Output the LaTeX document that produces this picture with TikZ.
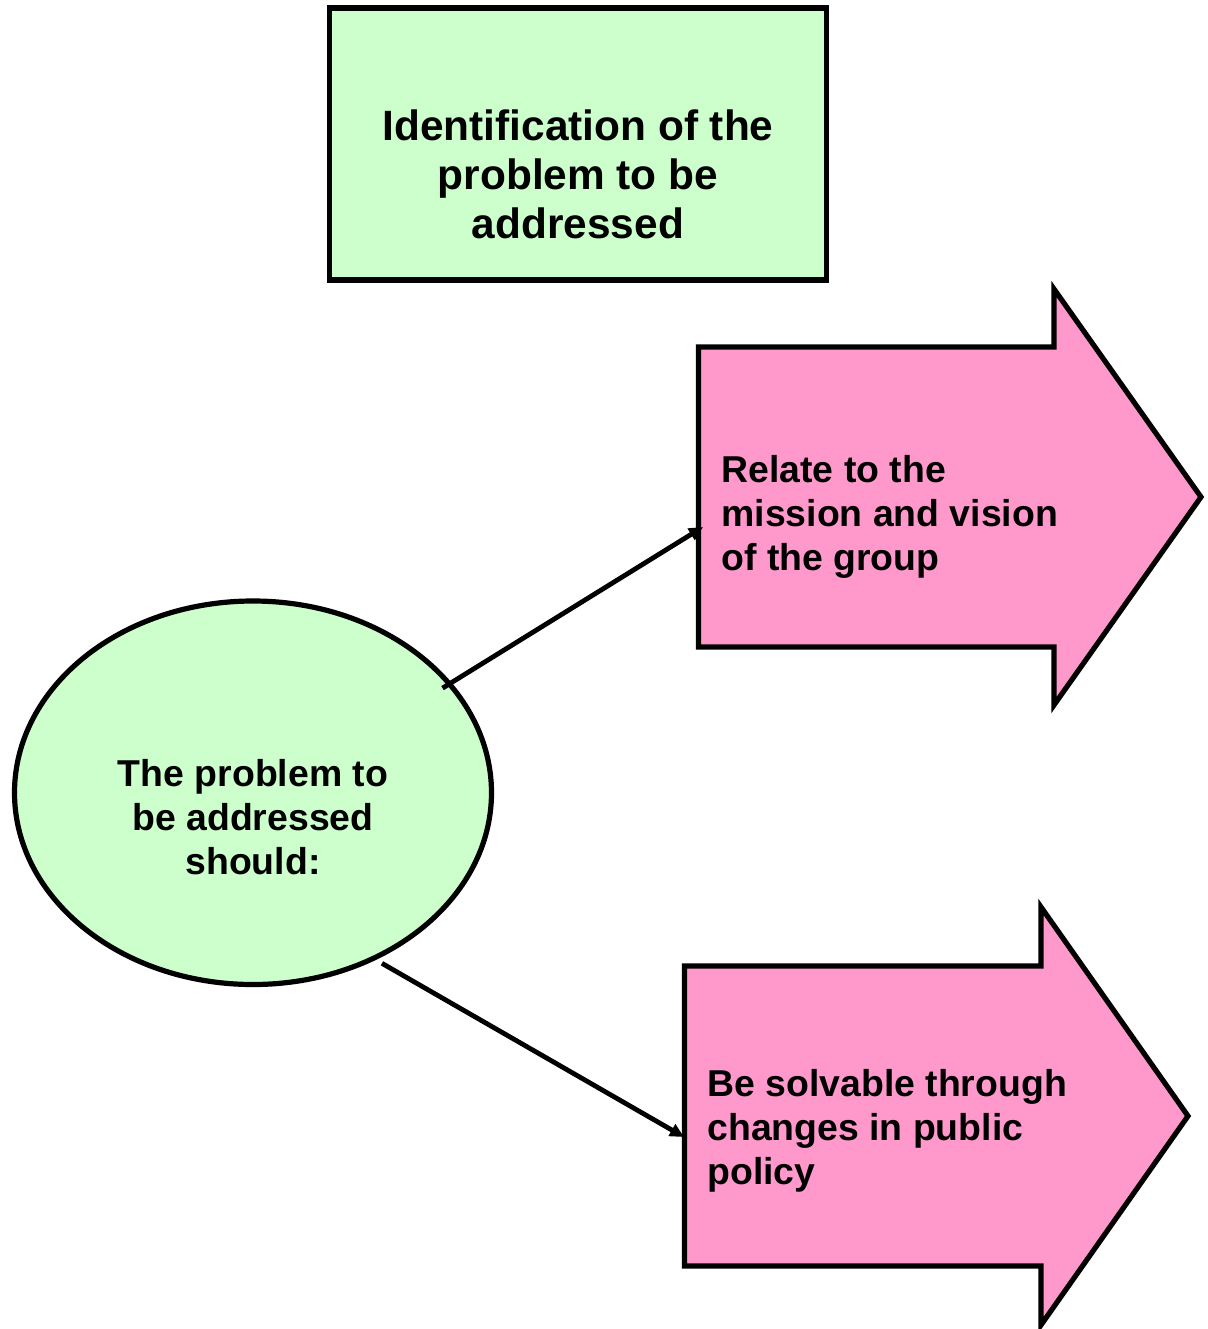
\documentclass[tikz,border=0pt]{standalone}
\usepackage{fontspec}
\setmainfont{Liberation Sans}
\usetikzlibrary{arrows.meta,shapes.geometric}
\definecolor{mint}{HTML}{CCFFCC}
\definecolor{rose}{HTML}{FF99CC}
\begin{document}
\begin{tikzpicture}[x=0.5pt,y=-0.5pt,
  outline/.style={draw=black,line width=2.6pt,miter limit=20},
  titlebox/.style={outline,fill=mint,rectangle,minimum width=248.25pt,minimum height=136pt,inner sep=0pt,outer sep=0pt},
  bubble/.style={outline,fill=mint,ellipse,minimum width=238.5pt,minimum height=191.75pt,inner sep=0pt,outer sep=0pt},
  pinkshape/.style={outline,fill=rose},
  bigtext/.style={font=\fontsize{21.2}{24.3}\selectfont\bfseries,align=center,inner sep=0pt},
  midtext/.style={font=\fontsize{18.7}{22}\selectfont\bfseries,inner sep=0pt},
  link/.style={draw=black,line width=2.4pt,-{Triangle[length=7pt,width=6.5pt]}}
]
\useasboundingbox (0,0) rectangle (1207,1329);

% heading box
\node[titlebox] (title) at (578,144) {};
\node[bigtext] (titlelabel) at (578,174.3) {Identification of the\\problem to be\\addressed};

% central ellipse
\node[bubble] (prob) at (253,792.75) {};
\node[midtext,align=center] (problabel) at (253,817) {The problem to\\be addressed\\should:};

% upper block arrow
\draw[pinkshape] (698.5,347) -- (1054,347) -- (1054,289) -- (1201,497)
  -- (1054,705) -- (1054,647) -- (698.5,647) -- cycle;
\node[midtext,align=left,anchor=west] (rellabel) at (721,516.8)
  {Relate to the\\mission and vision\\of the group};
\coordinate (relin) at (703,527);

% lower block arrow
\draw[pinkshape] (684.5,966) -- (1041,966) -- (1041,907) -- (1188,1116)
  -- (1041,1325) -- (1041,1266) -- (684.5,1266) -- cycle;
\node[midtext,align=left,anchor=west] (solvlabel) at (707,1131)
  {Be solvable through\\changes in public\\policy};
\coordinate (solvin) at (684,1137);

% connectors
\draw[link,shorten <=-4pt] (prob.29.4) -- (relin);
\draw[link,shorten <=5pt] (prob.-54) -- (solvin);
\end{tikzpicture}
\end{document}
